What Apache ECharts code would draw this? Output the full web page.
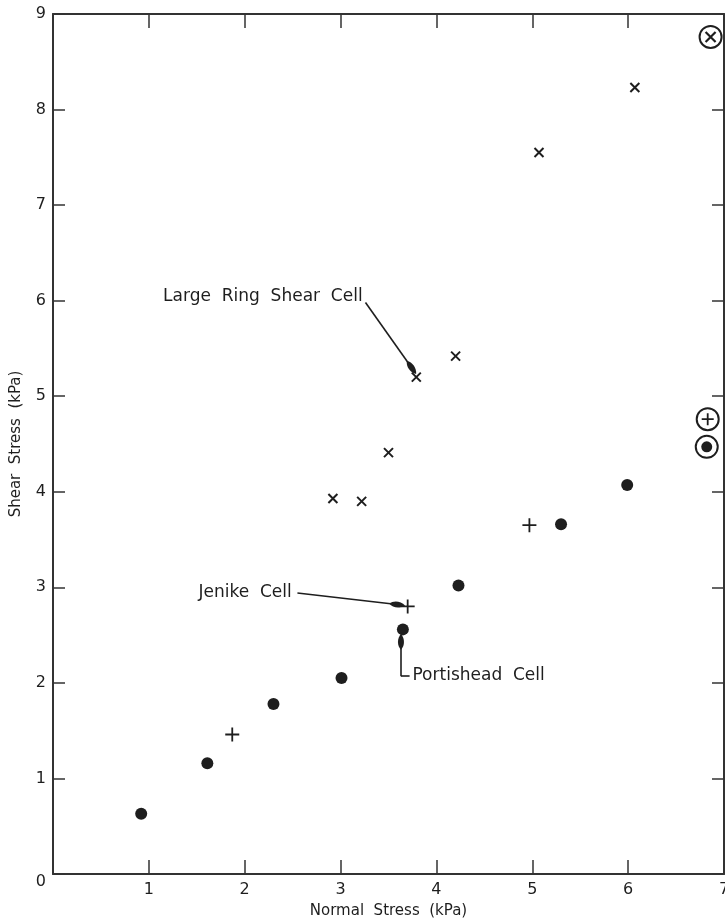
<!DOCTYPE html>
<html>
<head>
<meta charset="utf-8">
<script src="https://cdn.jsdelivr.net/npm/echarts@6/dist/echarts.min.js"></script>
<style>
  html, body { margin: 0; padding: 0; background: #fff; }
  #chart { width: 725px; height: 921px; }
</style>
</head>
<body>
<div id="chart"></div>
<script>
// normal stress / shear stress (kPa)
var portishead = [[0.92, 0.63], [1.61, 1.16], [2.30, 1.78], [3.01, 2.05], [3.65, 2.56], [4.23, 3.02], [5.30, 3.66], [5.99, 4.07]];
var jenike = [[1.87, 1.46], [3.70, 2.80], [4.97, 3.65]];
var ringShear = [[2.92, 3.93], [3.22, 3.90], [3.50, 4.41], [3.79, 5.20], [4.20, 5.42], [5.07, 7.55], [6.07, 8.23]];
// circled symbols at the right edge
var portisheadCircled = [[6.82, 4.47]];
var jenikeCircled = [[6.83, 4.76]];
var ringShearCircled = [[6.86, 8.76]];

var xTicks = [0, 1, 2, 3, 4, 5, 6, 7];
var yTicks = [0, 1, 2, 3, 4, 5, 6, 7, 8, 9];

var ink = '#1e1e1e';
var font = 'DejaVu Sans';
var crossPath = 'path://M0,0L10,10M10,0L0,10';
var plusPath = 'path://M5,0L5,10M0,5L10,5';
var blob = 'path://M5,0C7.5,6 7.5,15 5,20C2.5,15 2.5,6 5,0Z';

window.onload = function () {
  var chart = echarts.init(document.getElementById('chart'));

  var axisCommon = {
    type: 'value',
    axisLine: { show: true, onZero: false, lineStyle: { color: '#333', width: 2 } },
    axisTick: { show: true, inside: true, length: 14, lineStyle: { color: '#333', width: 1.5 } },
    splitLine: { show: false }
  };

  var option = {
    backgroundColor: '#fff',
    animation: false,
    textStyle: { fontFamily: font },
    grid: { left: 53, right: 1, top: 14, bottom: 47, containLabel: false, outerBoundsMode: 'none' },
    xAxis: [
      Object.assign({}, axisCommon, {
        min: xTicks[0], max: xTicks[xTicks.length - 1], interval: 1,
        position: 'bottom',
        name: 'Normal  Stress  (kPa)',
        nameLocation: 'middle',
        nameGap: 30,
        nameTextStyle: { fontSize: 15, color: ink, fontFamily: font },
        axisLabel: {
          fontSize: 16, color: ink, margin: 8, fontFamily: font,
          formatter: function (v) { return v === 0 ? '' : String(v); }
        }
      }),
      Object.assign({}, axisCommon, {
        min: xTicks[0], max: xTicks[xTicks.length - 1], interval: 1,
        position: 'top',
        axisLabel: { show: false }
      })
    ],
    yAxis: [
      Object.assign({}, axisCommon, {
        min: yTicks[0], max: yTicks[yTicks.length - 1], interval: 1,
        position: 'left',
        name: 'Shear  Stress  (kPa)',
        nameLocation: 'middle',
        nameGap: 29,
        nameTextStyle: { fontSize: 15, color: ink, fontFamily: font },
        axisTick: { show: true, inside: true, length: 12, lineStyle: { color: '#333', width: 1.5 } },
        axisLabel: {
          fontSize: 16, color: ink, margin: 7, fontFamily: font,
          formatter: function (v) { return v === 0 ? '{z|0}' : String(v); },
          rich: { z: { fontSize: 16, color: ink, padding: [16, 0, 0, 0], fontFamily: font } }
        }
      }),
      Object.assign({}, axisCommon, {
        min: yTicks[0], max: yTicks[yTicks.length - 1], interval: 1,
        position: 'right',
        axisTick: { show: true, inside: true, length: 12, lineStyle: { color: '#333', width: 1.5 } },
        axisLabel: { show: false }
      })
    ],
    series: [
      {
        name: 'Portishead Cell',
        type: 'scatter',
        symbol: 'circle',
        symbolSize: 12,
        itemStyle: { color: ink, opacity: 1 },
        data: portishead
      },
      {
        name: 'Jenike Cell',
        type: 'scatter',
        symbol: plusPath,
        symbolSize: 14,
        itemStyle: { color: 'rgba(0,0,0,0)', borderColor: ink, borderWidth: 1.8, opacity: 1 },
        data: jenike
      },
      {
        name: 'Large Ring Shear Cell',
        type: 'scatter',
        symbol: crossPath,
        symbolSize: 9,
        itemStyle: { color: 'rgba(0,0,0,0)', borderColor: ink, borderWidth: 2, opacity: 1 },
        data: ringShear
      },
      // circled markers: ring + inner symbol
      {
        type: 'scatter',
        symbol: 'circle',
        symbolSize: 22,
        itemStyle: { color: 'rgba(0,0,0,0)', borderColor: ink, borderWidth: 2, opacity: 1 },
        data: portisheadCircled.concat(jenikeCircled, ringShearCircled)
      },
      {
        type: 'scatter',
        symbol: 'circle',
        symbolSize: 11,
        itemStyle: { color: ink, opacity: 1 },
        data: portisheadCircled
      },
      {
        type: 'scatter',
        symbol: plusPath,
        symbolSize: 12,
        itemStyle: { color: 'rgba(0,0,0,0)', borderColor: ink, borderWidth: 1.8, opacity: 1 },
        data: jenikeCircled
      },
      {
        type: 'scatter',
        symbol: crossPath,
        symbolSize: 10,
        itemStyle: { color: 'rgba(0,0,0,0)', borderColor: ink, borderWidth: 2.2, opacity: 1 },
        data: ringShearCircled
      },
      // annotation labels and leader lines
      {
        type: 'scatter',
        symbolSize: 0,
        silent: true,
        itemStyle: { opacity: 1 },
        label: {
          show: true,
          color: ink,
          fontSize: 17,
          fontFamily: font,
          distance: 0,
          formatter: function (p) { return p.name; }
        },
        data: [
          { name: 'Large  Ring  Shear  Cell', value: [3.23, 6.04], label: { position: 'left' } },
          { name: 'Jenike  Cell', value: [2.49, 2.95], label: { position: 'left' } },
          { name: 'Portishead  Cell', value: [3.75, 2.08], label: { position: 'right' } }
        ],
        markLine: {
          silent: true,
          animation: false,
          symbol: ['none', blob],
          symbolSize: [6, 16],
          label: { show: false },
          lineStyle: { color: ink, width: 1.6, type: 'solid', opacity: 1 },
          data: [
            [{ coord: [3.26, 5.98] }, { coord: [3.74, 5.30] }],
            [{ coord: [2.55, 2.94] }, { coord: [3.59, 2.82] }],
            [{ coord: [3.63, 2.07] }, { coord: [3.63, 2.43] }],
            [{ coord: [3.63, 2.07], symbol: 'none' }, { coord: [3.72, 2.07], symbol: 'none' }]
          ]
        }
      }
    ]
  };

  chart.setOption(option);
};
</script>
</body>
</html>
